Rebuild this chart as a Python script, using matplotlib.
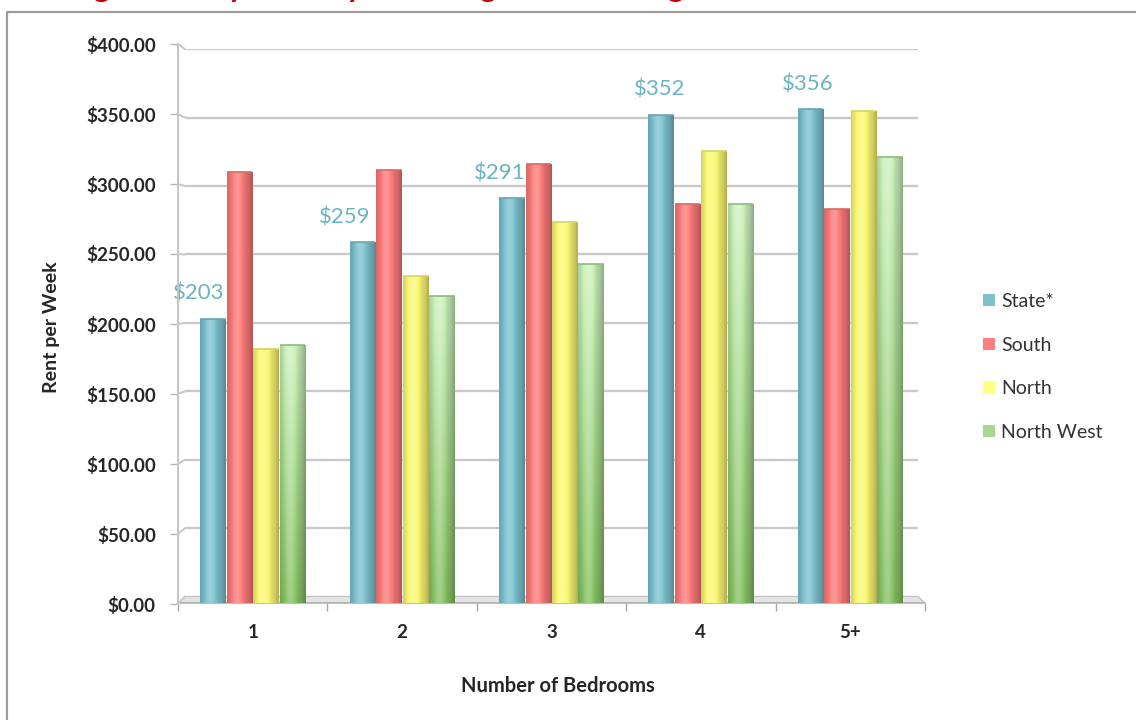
import numpy as np
import matplotlib
matplotlib.use("Agg")
import matplotlib.pyplot as plt
from matplotlib.patches import Patch, Polygon, ConnectionPatch
from matplotlib.colors import to_rgb
from matplotlib.lines import Line2D

# ---- data -------------------------------------------------------------
bedrooms = ["1", "2", "3", "4", "5+"]
series_names = ["State*", "South", "North", "North West"]
state = [203, 259, 291, 352, 356]
south = [310, 312, 316, 287, 283]
north = [181, 234, 274, 326, 355]
north_west = [184, 220, 243, 287, 321]
y_ticks = [0, 50, 100, 150, 200, 250, 300, 350, 400]

series_values = [state, south, north, north_west]

# ---- styling -----------------------------------------------------------
W, H, DPI = 1136, 720, 100
base_colors = ["#7cc2cf", "#fb7b79", "#fbf872", "#a9dc92"]
legend_colors = ["#7fbfc8", "#ff7f7f", "#ffff80", "#a8d88e"]
label_color = "#6ab4c2"
grid_color = "#c9c9c9"
text_dark = "#262626"
FLOOR = -5          # front edge of the chart floor (in value units)
bar_step = 0.177    # distance between neighbouring bars in a group
bar_width = 0.171
label_dx_px = [-14, -18, -12, -2, -3]   # horizontal nudges for the State labels
label_dy_px = 25

plt.rcParams["font.family"] = ["Lato", "DejaVu Sans"]

fig = plt.figure(figsize=(W / DPI, H / DPI), dpi=DPI)
fig.patch.set_facecolor("white")

# outer frame of the chart object
frame_x = 7 / W
frame_y = 1 - 12 / H
fig.add_artist(Line2D([frame_x, frame_x, 1.0], [0.0, frame_y, frame_y],
                      transform=fig.transFigure, color="#9c9c9c", lw=1.6))

# heading of the page section, running above the chart frame
fig.text(9 / W, 1 + 3.0 / H, "Average Weekly Rent by Dwelling Size and Region",
         ha="left", va="baseline", fontsize=23, fontweight="bold",
         color="#c00000")

# ---- main plotting axes ------------------------------------------------
ax_left, ax_right = 178, 925
ax_top, ax_bot = 49.3, 603.3
ax = fig.add_axes([ax_left / W, 1 - ax_bot / H,
                   (ax_right - ax_left) / W, (ax_bot - ax_top) / H])
ax.set_facecolor("none")

inset = 7 / (ax_right - ax_left)
ytr = ax.get_yaxis_transform()

# back-wall grid lines
ax.hlines(y_ticks[1:], inset, 1 - inset, transform=ytr,
          color=grid_color, lw=1.7, zorder=1)

# floor slab
floor = Polygon([(0, FLOOR), (1, FLOOR), (1 - inset, 0), (inset, 0)],
                closed=True, transform=ytr, facecolor="#e4e4e4",
                edgecolor="#c4c4c4", lw=1.0, zorder=1.5)
ax.add_patch(floor)


def shade_profile(n=64):
    t = np.linspace(0, 1, n)
    # darker edges, bright highlight a little left of centre
    prof = 0.80 + 0.30 * np.exp(-((t - 0.40) / 0.30) ** 2)
    prof[t > 0.85] -= 0.10 * (t[t > 0.85] - 0.85) / 0.15
    return prof


prof = shade_profile()
x = np.arange(len(bedrooms))
for j, (vals, col) in enumerate(zip(series_values, base_colors)):
    offs = (j - 1.5) * bar_step
    heights = [v - FLOOR for v in vals]
    bars = ax.bar(x + offs, heights, bottom=FLOOR, width=bar_width,
                  facecolor="none", edgecolor="none", zorder=3)
    rgb = np.array(to_rgb(col))
    for b in bars:
        nv = 64
        if j == 3:
            # green bars fade from pale at the top to deeper green below
            top_c = np.array(to_rgb("#cdf3bd"))
            bot_c = np.array(to_rgb("#86c264"))
            vgrad = np.linspace(0, 1, nv)[:, None, None]
            colgrid = top_c * (1 - vgrad) + bot_c * vgrad
        else:
            colgrid = np.tile(rgb, (nv, 1, 1)).reshape(nv, 1, 3)
        p = prof[None, :, None]
        light = np.where(p > 1, colgrid + (1 - colgrid) * (p - 1) * 2.2,
                         colgrid * p)
        img = np.clip(np.broadcast_to(light, (nv, len(prof), 3)), 0, 1)
        x0, y0 = b.get_x(), b.get_y()
        im = ax.imshow(img, extent=(x0, x0 + b.get_width(), y0, y0 + b.get_height()),
                       origin="upper", aspect="auto", interpolation="bilinear",
                       zorder=3)
        im.set_clip_path(b)
        # top rim of the cylinder
        ax.plot([x0, x0 + b.get_width()], [y0 + b.get_height()] * 2,
                color=tuple(np.clip(rgb * 0.85, 0, 1)), lw=1.2, zorder=3.5,
                solid_capstyle="butt")

# value labels for the State series
for i, v in enumerate(state):
    xc = x[i] - 1.5 * bar_step
    ax.annotate(f"${v}", (xc, v), xytext=(label_dx_px[i] * 0.72, label_dy_px * 0.72),
                textcoords="offset points", ha="center", va="center",
                fontsize=16, color=label_color, zorder=5)

ax.set_xlim(-0.5, len(bedrooms) - 0.5)
ax.set_ylim(FLOOR, 400)

# x axis: category labels with boundary ticks
for s in ["top", "right", "left"]:
    ax.spines[s].set_visible(False)
ax.spines["bottom"].set_color("#b0b0b0")
ax.spines["bottom"].set_linewidth(1.2)
ax.set_xticks(x)
ax.set_xticklabels(bedrooms, fontsize=13.5, fontweight="bold", color=text_dark)
ax.tick_params(axis="x", which="major", length=0, pad=15)
ax.set_xticks(np.arange(len(bedrooms) + 1) - 0.5, minor=True)
ax.tick_params(axis="x", which="minor", length=6, color="#a8a8a8", width=1.0)
ax.set_yticks([])

# ---- value axis drawn at the front edge of the chart ------------------
lab_top, lab_bot = 44, 604
lax = fig.add_axes([ax_left / W, 1 - lab_bot / H, 0.001, (lab_bot - lab_top) / H])
lax.set_ylim(0, 400)
lax.set_xlim(0, 1)
lax.set_facecolor("none")
for s in ["top", "right", "bottom"]:
    lax.spines[s].set_visible(False)
lax.spines["left"].set_color("#c4c4c4")
lax.spines["left"].set_linewidth(1.4)
lax.set_xticks([])
lax.set_yticks(y_ticks)
lax.set_yticklabels([f"${t:.2f}" for t in y_ticks], fontsize=13.5,
                    fontweight="bold", color=text_dark)
lax.tick_params(axis="y", length=6, color="#b4b4b4", width=1.0, pad=10)

# short side-wall connectors between value ticks and grid lines
for t in y_ticks:
    con = ConnectionPatch(xyA=(0, t), coordsA=lax.get_yaxis_transform(),
                          xyB=(inset, t), coordsB=ytr,
                          color=grid_color, lw=1.5, zorder=1)
    fig.add_artist(con)

# axis titles
fig.text(52 / W, 1 - 327 / H, "Rent per Week", rotation=90, ha="center",
         va="center", fontsize=14, fontweight="bold", color=text_dark)
fig.text(558 / W, 1 - 686 / H, "Number of Bedrooms", ha="center", va="center",
         fontsize=14.5, fontweight="bold", color=text_dark)

# legend
handles = [Patch(facecolor=c, edgecolor="none") for c in legend_colors]
fig.legend(handles, series_names, loc="center left",
           bbox_to_anchor=(983 / W, 1 - 367 / H), frameon=False,
           fontsize=14, labelcolor="#333333", handlelength=0.62,
           handleheight=0.62, handletextpad=0.3, labelspacing=1.37,
           borderpad=0, borderaxespad=0)

fig.savefig("out.png", dpi=DPI, facecolor="white")
